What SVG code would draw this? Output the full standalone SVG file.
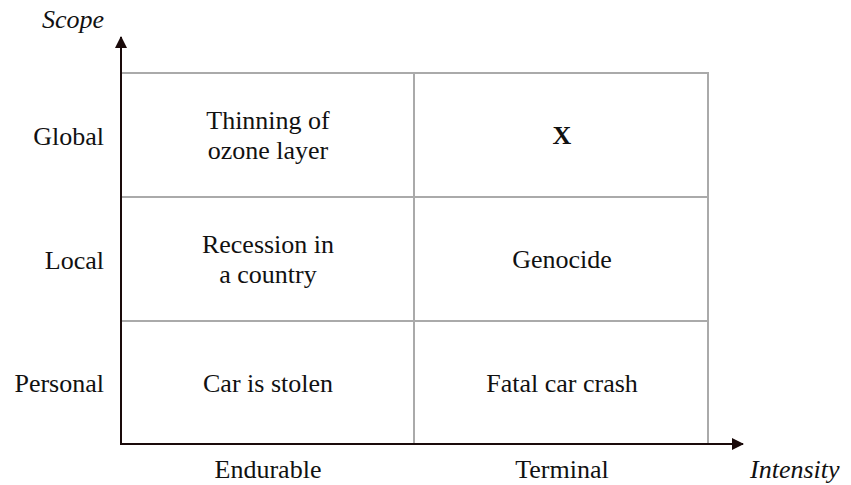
<svg xmlns="http://www.w3.org/2000/svg" width="851" height="485" viewBox="0 0 851 485">
<defs>
<style>
.t{font-family:"Liberation Serif","Times New Roman",serif;font-size:26px;fill:#111;}
.c{text-anchor:middle;}
.r{text-anchor:end;}
.i{font-style:italic;}
.b{font-weight:bold;}
.grid{stroke:#aaaaaa;stroke-width:2;fill:none;}
.axis{stroke:#1a0a0a;stroke-width:2;fill:none;}
</style>
<marker id="ah" viewBox="0 0 12 12" refX="11" refY="6" markerWidth="12" markerHeight="12" markerUnits="userSpaceOnUse" orient="auto">
<path d="M0,0 L12,6 L0,12 Z" fill="#1a0a0a"/>
</marker>
</defs>
<rect width="851" height="485" fill="#fff"/>
<g id="grid" class="grid">
<path d="M121,73 H708 V444"/>
<path d="M121,197 H708"/>
<path d="M121,321 H708"/>
<path d="M414,73 V444"/>
</g>
<g id="connectors">
<path class="axis" d="M121,445 V37" marker-end="url(#ah)"/>
<path class="axis" d="M120,444 H743" marker-end="url(#ah)"/>
</g>
<g id="cell-global-endurable"><text class="t c" x="268" y="129">Thinning of</text><text class="t c" x="268" y="159">ozone layer</text></g>
<g id="cell-global-terminal"><text class="t c b" x="562" y="144">X</text></g>
<g id="cell-local-endurable"><text class="t c" x="268" y="253">Recession in</text><text class="t c" x="268" y="283">a country</text></g>
<g id="cell-local-terminal"><text class="t c" x="562" y="268">Genocide</text></g>
<g id="cell-personal-endurable"><text class="t c" x="268" y="392">Car is stolen</text></g>
<g id="cell-personal-terminal"><text class="t c" x="562" y="392">Fatal car crash</text></g>
<g id="labels">
<text class="t i" x="42" y="28">Scope</text>
<text class="t r" x="104" y="145">Global</text>
<text class="t r" x="104" y="269">Local</text>
<text class="t r" x="104" y="392">Personal</text>
<text class="t c" x="268" y="478">Endurable</text>
<text class="t c" x="562" y="478">Terminal</text>
<text class="t i" x="750" y="478">Intensity</text>
</g>
</svg>
